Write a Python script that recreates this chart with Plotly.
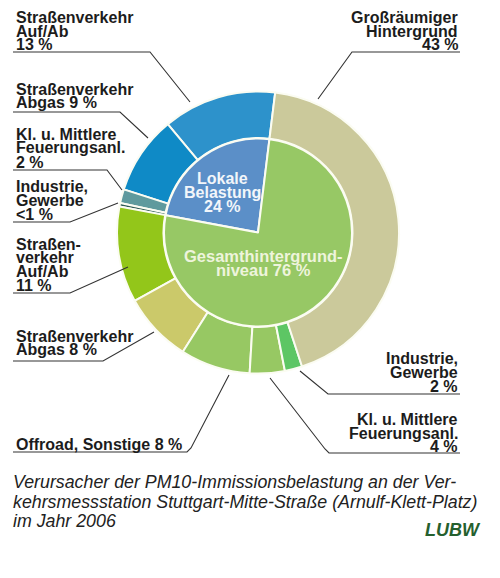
import plotly.graph_objects as go

W, H = 500, 578

# ---- data ----
inner_labels = ["Lokale Belastung", "Gesamthintergrundniveau"]
inner_values = [24, 76]
inner_colors = ["#5b8fc8", "#97c865"]

outer_labels = ["Straßenverkehr Auf/Ab (lokal)", "Straßenverkehr Abgas (lokal)",
                "Kl. u. Mittlere Feuerungsanl. (lokal)", "Industrie, Gewerbe (lokal)",
                "Straßenverkehr Auf/Ab", "Straßenverkehr Abgas", "Offroad, Sonstige",
                "Kl. u. Mittlere Feuerungsanl.", "Industrie, Gewerbe", "Großräumiger Hintergrund"]
outer_values = [13, 9, 1.6, 0.4, 11, 8, 8, 4, 2, 43]
outer_colors = ["#2d92cb", "#0f8ac6", "#5f9a9d", "#2e5a55", "#93c61a",
                "#cbc96a", "#97c863", "#97c863", "#5dc664", "#cbc99b"]

left_labels = [
    ["Straßenverkehr", "Auf/Ab", "13 %"],
    ["Straßenverkehr", "Abgas 9 %"],
    ["Kl. u. Mittlere", "Feuerungsanl.", "2 %"],
    ["Industrie,", "Gewerbe", "<1 %"],
    ["Straßen-", "verkehr", "Auf/Ab", "11 %"],
    ["Straßenverkehr", "Abgas 8 %"],
    ["Offroad, Sonstige 8 %"],
]
right_labels = [
    ["Großräumiger", "Hintergrund", "43 %"],
    ["Industrie,", "Gewerbe", "2 %"],
    ["Kl. u. Mittlere", "Feuerungsanl.", "4 %"],
]
caption = ["Verursacher der PM10-Immissionsbelastung an der Ver-",
           "kehrsmessstation Stuttgart-Mitte-Straße (Arnulf-Klett-Platz)",
           "im Jahr 2006"]

# ---- layout helpers ----
def px(x):
    return x / W

def py(y):
    return 1 - y / H

cx, cy, R, r_in = 258, 232.5, 141, 94
start_angle = 7  # boundary of first slice, degrees clockwise from 12 o'clock

# plotly places (counterclockwise) first slice so that it ends at `rotation`+its size
outer_rot = start_angle - 360 * outer_values[0] / sum(outer_values)
inner_rot = start_angle - 360 * inner_values[0] / sum(inner_values)

fig = go.Figure()
fig.add_trace(go.Pie(
    values=outer_values, labels=outer_labels, sort=False, direction="counterclockwise",
    rotation=outer_rot, hole=0.67, textinfo="none", showlegend=False,
    marker=dict(colors=outer_colors, line=dict(color="#fbfcf2", width=2)),
    domain=dict(x=[px(cx - R), px(cx + R)], y=[py(cy + R), py(cy - R)]),
))
fig.add_trace(go.Pie(
    values=inner_values, labels=inner_labels, sort=False, direction="counterclockwise",
    rotation=inner_rot, textinfo="none", showlegend=False,
    marker=dict(colors=inner_colors, line=dict(color="#fbfcf2", width=2)),
    domain=dict(x=[px(cx - r_in), px(cx + r_in)], y=[py(cy + r_in), py(cy - r_in)]),
))

ann = []
FONT = "Liberation Sans"
LBL = dict(family=FONT, size=16, color="#1c1c1c", weight="bold")

left_centers = [[17.5, 31.5, 44.5], [89.5, 103], [134, 148, 162], [186.5, 200.5, 214],
                [244, 257.5, 271, 285], [336, 349.5], [444]]
for lines, ys in zip(left_labels, left_centers):
    for t, y in zip(lines, ys):
        ann.append(dict(x=px(14), y=py(y), xref="paper", yref="paper", text=t,
                        showarrow=False, xanchor="left", yanchor="middle", font=LBL))

right_centers = [[17.5, 31, 44.5], [358.5, 372.5, 386.5], [419, 433, 446]]
for lines, ys in zip(right_labels, right_centers):
    for t, y in zip(lines, ys):
        ann.append(dict(x=px(460), y=py(y), xref="paper", yref="paper", text=t,
                        showarrow=False, xanchor="right", yanchor="middle", font=LBL))

# inner labels
INL = dict(family=FONT, size=16, color="#f2f6fa", weight="bold")
for t, y in zip(["Lokale", "Belastung", "24 %"], [178, 192, 206]):
    ann.append(dict(x=px(222), y=py(y), xref="paper", yref="paper", text=t,
                    showarrow=False, xanchor="center", yanchor="middle", font=INL))
ING = dict(family=FONT, size=16.5, color="#eef4dc", weight="bold")
for t, y in zip(["Gesamthintergrund-", "niveau 76 %"], [256, 269.5]):
    ann.append(dict(x=px(263), y=py(y), xref="paper", yref="paper", text=t,
                    showarrow=False, xanchor="center", yanchor="middle", font=ING))

# caption
CAP = dict(family=FONT, size=17.8, color="#222222", style="italic")
for t, y in zip(caption, [482, 501.5, 521]):
    ann.append(dict(x=px(11), y=py(y), xref="paper", yref="paper", text=t,
                    showarrow=False, xanchor="left", yanchor="middle", font=CAP))
ann.append(dict(x=px(453), y=py(530), xref="paper", yref="paper", text="LUBW",
                showarrow=False, xanchor="center", yanchor="middle",
                font=dict(family=FONT, size=18, color="#25602e", weight="bold", style="italic")))

# leader lines (underline + pointer)
leaders = [
    [(13, 52), (150, 52), (190, 102)],
    [(13, 112), (120, 112), (148, 138)],
    [(13, 170), (107, 170), (122, 190)],
    [(13, 222), (70, 222), (118, 203)],
    [(13, 293), (70, 293), (128, 267)],
    [(13, 361), (103, 361), (154, 332)],
    [(13, 452), (187, 452), (191, 448), (229, 375)],
    [(460, 52), (352, 52), (318, 99)],
    [(460, 394), (328, 394), (300, 371)],
    [(460, 453), (329, 453), (325, 449), (270, 378)],
]
shapes = []
for pts in leaders:
    path = "M " + " L ".join(f"{px(x):.5f},{py(y):.5f}" for x, y in pts)
    shapes.append(dict(type="path", path=path, xref="paper", yref="paper",
                       line=dict(color="#333333", width=1.1)))

fig.update_layout(width=W, height=H, margin=dict(l=0, r=0, t=0, b=0),
                  paper_bgcolor="white", plot_bgcolor="white",
                  annotations=ann, shapes=shapes)
fig.write_html("out.html")
